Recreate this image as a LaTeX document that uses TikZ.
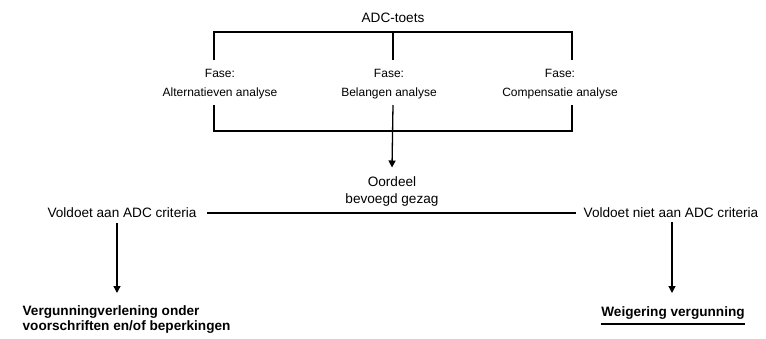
\documentclass[tikz,border=0pt]{standalone}
\usepackage{fontspec}
\setmainfont{Liberation Sans}
\usetikzlibrary{arrows.meta}
\begin{document}
\begin{tikzpicture}[x=1pt,y=-1pt,line width=1.3pt,
  lbl/.style={font=\fontsize{13.6}{17}\selectfont,inner sep=0pt,align=center},
  phase/.style={font=\fontsize{12}{18.5}\selectfont,align=center,inner sep=0pt},
  outc/.style={font=\fontsize{13.6}{15}\selectfont\bfseries,inner sep=0pt,align=left},
  arr/.style={-{Triangle[length=7pt,width=7pt]}}]
\useasboundingbox (0,0) rectangle (766,338);
% texts
\node[lbl] (top) at (393,18) {ADC-toets};
\node[phase] (fA) at (220,84) {Fase:\\Alternatieven analyse};
\node[phase] (fB) at (389,84) {Fase:\\Belangen analyse};
\node[phase] (fC) at (560,84) {Fase:\\Compensatie analyse};
\node[lbl] (oord) at (392,191) {Oordeel\\bevoegd gezag};
\node[lbl] (vl) at (122,213) {Voldoet aan ADC criteria};
\node[lbl] (vr) at (671,213) {Voldoet niet aan ADC criteria};
\node[outc,anchor=west] (outL) at (22,320) {Vergunningverlening onder\\voorschriften en/of beperkingen};
\node[outc] (outR) at (673,313) {Weigering vergunning};
% bracket coordinates
\coordinate (tA) at (214,32); \coordinate (tB) at (393,32); \coordinate (tC) at (572,32);
\coordinate (uA) at (214,60); \coordinate (uB) at (393,60); \coordinate (uC) at (572,60);
\coordinate (dA) at (214,105); \coordinate (dB) at (393,105); \coordinate (dC) at (572,105);
\coordinate (bA) at (214,131); \coordinate (bC) at (572,131);
\coordinate (la) at (117,223); \coordinate (lb) at (117,293);
\coordinate (ra) at (672,222); \coordinate (rb) at (672,293);
% top bracket
\draw (uA) -- (tA) -- (tC) -- (uC);
\draw (tB) -- (uB);
% bottom bracket
\draw (dA) -- (bA) -- (bC) -- (dC);
\draw[arr] (dB) -- ([yshift=8pt]oord.north);
% decision line
\draw[shorten <=10pt,shorten >=7pt] (vl.east) -- (vr.west);
% outcome arrows
\draw[arr] (la) -- (lb);
\draw[arr] (ra) -- (rb);
\draw ([yshift=-4pt]outR.south west) -- ([yshift=-4pt]outR.south east);
\end{tikzpicture}
\end{document}
